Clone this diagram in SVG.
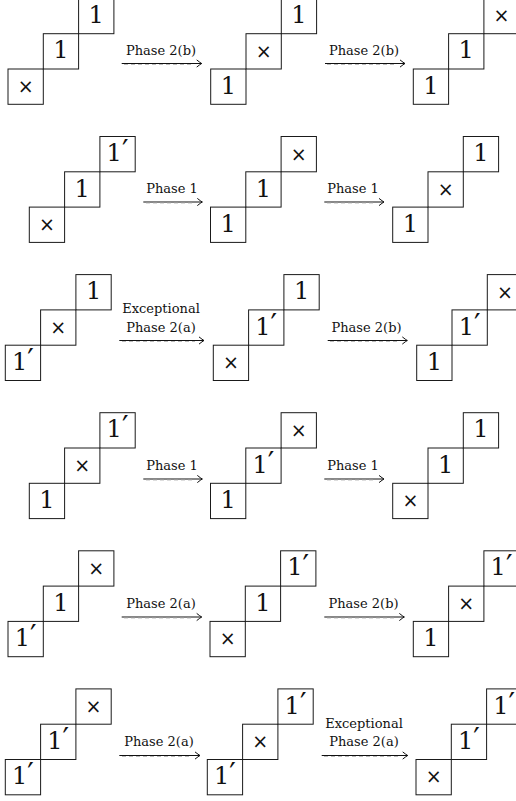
<svg xmlns="http://www.w3.org/2000/svg" xmlns:xlink="http://www.w3.org/1999/xlink" width="516" height="801" viewBox="0 0 516 801">
<style>
.c{fill:none;stroke:#1a1a1a;stroke-width:1}
.n{font-family:"DejaVu Serif",serif;font-size:24px;text-anchor:middle;fill:#111}
.p{font-size:29px}
.x{font-family:"DejaVu Sans",sans-serif;font-size:19px;text-anchor:middle;fill:#111}
.lab{font-family:"DejaVu Serif",serif;font-size:13px;text-anchor:middle;fill:#111}
.ar{stroke:#111;stroke-width:1;fill:none;marker-end:url(#head)}
.ds{stroke:#aaa;stroke-width:0.8;stroke-dasharray:4 3;fill:none}
</style>
<defs>
<g id="stair">
<rect class="c" x="0" y="70.6" width="35.3" height="35.3"/>
<rect class="c" x="35.3" y="35.3" width="35.3" height="35.3"/>
<rect class="c" x="70.6" y="0" width="35.3" height="35.3"/>
</g>
<marker id="head" viewBox="-6 -5 7 10" markerWidth="7" markerHeight="10" refX="0" refY="0" orient="auto" markerUnits="userSpaceOnUse">
<path d="M-5,-3.6 Q-1.5,-0.8 0,0 Q-1.5,0.8 -5,3.6" stroke="#111" stroke-width="1" fill="none"/>
</marker>
</defs>

<!-- Row 1 -->
<g id="r1d1" transform="translate(8,-1.6)"><use xlink:href="#stair"/>
<text class="x" x="17.65" y="94.6">×</text><text class="n" x="52.95" y="60">1</text><text class="n" x="88.25" y="24.7">1</text></g>
<g id="r1d2" transform="translate(210.7,-1.6)"><use xlink:href="#stair"/>
<text class="n" x="17.65" y="95.3">1</text><text class="x" x="52.95" y="59.3">×</text><text class="n" x="88.25" y="24.7">1</text></g>
<g id="r1d3" transform="translate(413.3,-1.6)"><use xlink:href="#stair"/>
<text class="n" x="17.65" y="95.3">1</text><text class="n" x="52.95" y="60">1</text><text class="x" x="88.25" y="24">×</text></g>

<!-- Row 2 -->
<g id="r2d1" transform="translate(29.3,136.5)"><use xlink:href="#stair"/>
<text class="x" x="17.65" y="94.6">×</text><text class="n" x="52.95" y="60">1</text><text class="n" x="88.25" y="24.7">1<tspan class="p">′</tspan></text></g>
<g id="r2d2" transform="translate(210.5,136.5)"><use xlink:href="#stair"/>
<text class="n" x="17.65" y="95.3">1</text><text class="n" x="52.95" y="60">1</text><text class="x" x="88.25" y="24">×</text></g>
<g id="r2d3" transform="translate(392.7,136.5)"><use xlink:href="#stair"/>
<text class="n" x="17.65" y="95.3">1</text><text class="x" x="52.95" y="59.3">×</text><text class="n" x="88.25" y="24.7">1</text></g>

<!-- Row 3 -->
<g id="r3d1" transform="translate(5.3,274.6)"><use xlink:href="#stair"/>
<text class="n" x="17.65" y="95.3">1<tspan class="p">′</tspan></text><text class="x" x="52.95" y="59.3">×</text><text class="n" x="88.25" y="24.7">1</text></g>
<g id="r3d2" transform="translate(213.3,274.6)"><use xlink:href="#stair"/>
<text class="x" x="17.65" y="94.6">×</text><text class="n" x="52.95" y="60">1<tspan class="p">′</tspan></text><text class="n" x="88.25" y="24.7">1</text></g>
<g id="r3d3" transform="translate(416.7,274.6)"><use xlink:href="#stair"/>
<text class="n" x="17.65" y="95.3">1</text><text class="n" x="52.95" y="60">1<tspan class="p">′</tspan></text><text class="x" x="88.25" y="24">×</text></g>

<!-- Row 4 -->
<g id="r4d1" transform="translate(29.3,412.7)"><use xlink:href="#stair"/>
<text class="n" x="17.65" y="95.3">1</text><text class="x" x="52.95" y="59.3">×</text><text class="n" x="88.25" y="24.7">1<tspan class="p">′</tspan></text></g>
<g id="r4d2" transform="translate(210.5,412.7)"><use xlink:href="#stair"/>
<text class="n" x="17.65" y="95.3">1</text><text class="n" x="52.95" y="60">1<tspan class="p">′</tspan></text><text class="x" x="88.25" y="24">×</text></g>
<g id="r4d3" transform="translate(392.7,412.7)"><use xlink:href="#stair"/>
<text class="x" x="17.65" y="94.6">×</text><text class="n" x="52.95" y="60">1</text><text class="n" x="88.25" y="24.7">1</text></g>

<!-- Row 5 -->
<g id="r5d1" transform="translate(8,550.8)"><use xlink:href="#stair"/>
<text class="n" x="17.65" y="95.3">1<tspan class="p">′</tspan></text><text class="n" x="52.95" y="60">1</text><text class="x" x="88.25" y="24">×</text></g>
<g id="r5d2" transform="translate(210,550.8)"><use xlink:href="#stair"/>
<text class="x" x="17.65" y="94.6">×</text><text class="n" x="52.95" y="60">1</text><text class="n" x="88.25" y="24.7">1<tspan class="p">′</tspan></text></g>
<g id="r5d3" transform="translate(413.3,550.8)"><use xlink:href="#stair"/>
<text class="n" x="17.65" y="95.3">1</text><text class="x" x="52.95" y="59.3">×</text><text class="n" x="88.25" y="24.7">1<tspan class="p">′</tspan></text></g>

<!-- Row 6 -->
<g id="r6d1" transform="translate(5.3,688.9)"><use xlink:href="#stair"/>
<text class="n" x="17.65" y="95.3">1<tspan class="p">′</tspan></text><text class="n" x="52.95" y="60">1<tspan class="p">′</tspan></text><text class="x" x="88.25" y="24">×</text></g>
<g id="r6d2" transform="translate(207.3,688.9)"><use xlink:href="#stair"/>
<text class="n" x="17.65" y="95.3">1<tspan class="p">′</tspan></text><text class="x" x="52.95" y="59.3">×</text><text class="n" x="88.25" y="24.7">1<tspan class="p">′</tspan></text></g>
<g id="r6d3" transform="translate(416,688.9)"><use xlink:href="#stair"/>
<text class="x" x="17.65" y="94.6">×</text><text class="n" x="52.95" y="60">1<tspan class="p">′</tspan></text><text class="n" x="88.25" y="24.7">1<tspan class="p">′</tspan></text></g>

<g id="connectors">
<!-- Row 1 -->
<line class="ar" x1="121.7" y1="63.5" x2="201.7" y2="63.5"/><line class="ds" x1="124" y1="64.5" x2="192" y2="64.5"/>
<text class="lab" x="161" y="54.5">Phase 2(b)</text>
<line class="ar" x1="325" y1="63.5" x2="405" y2="63.5"/><line class="ds" x1="327" y1="64.5" x2="395" y2="64.5"/>
<text class="lab" x="364" y="54.5">Phase 2(b)</text>
<!-- Row 2 -->
<line class="ar" x1="143.3" y1="202" x2="202.3" y2="202"/><line class="ds" x1="146" y1="203" x2="193" y2="203"/>
<text class="lab" x="172" y="193">Phase 1</text>
<line class="ar" x1="324.3" y1="202" x2="384" y2="202"/><line class="ds" x1="327" y1="203" x2="375" y2="203"/>
<text class="lab" x="353" y="193">Phase 1</text>
<!-- Row 3 -->
<line class="ar" x1="119.3" y1="340.5" x2="204" y2="340.5"/><line class="ds" x1="122" y1="341.5" x2="195" y2="341.5"/>
<text class="lab" x="161" y="313">Exceptional</text>
<text class="lab" x="161" y="331.5">Phase 2(a)</text>
<line class="ar" x1="327.7" y1="340.5" x2="407.3" y2="340.5"/><line class="ds" x1="330" y1="341.5" x2="398" y2="341.5"/>
<text class="lab" x="366.5" y="331.5">Phase 2(b)</text>
<!-- Row 4 -->
<line class="ar" x1="143.3" y1="479" x2="202.3" y2="479"/><line class="ds" x1="146" y1="480" x2="193" y2="480"/>
<text class="lab" x="172" y="470">Phase 1</text>
<line class="ar" x1="324.3" y1="479" x2="384" y2="479"/><line class="ds" x1="327" y1="480" x2="375" y2="480"/>
<text class="lab" x="353" y="470">Phase 1</text>
<!-- Row 5 -->
<line class="ar" x1="121.7" y1="617" x2="201.7" y2="617"/><line class="ds" x1="124" y1="618" x2="192" y2="618"/>
<text class="lab" x="161" y="608">Phase 2(a)</text>
<line class="ar" x1="324.3" y1="617" x2="404.3" y2="617"/><line class="ds" x1="327" y1="618" x2="395" y2="618"/>
<text class="lab" x="363.5" y="608">Phase 2(b)</text>
<!-- Row 6 -->
<line class="ar" x1="119.3" y1="755.5" x2="200" y2="755.5"/><line class="ds" x1="122" y1="756.5" x2="191" y2="756.5"/>
<text class="lab" x="159" y="746">Phase 2(a)</text>
<line class="ar" x1="321.7" y1="755.5" x2="407.7" y2="755.5"/><line class="ds" x1="324" y1="756.5" x2="398" y2="756.5"/>
<text class="lab" x="364" y="728">Exceptional</text>
<text class="lab" x="364" y="746">Phase 2(a)</text>
</g>
</svg>
